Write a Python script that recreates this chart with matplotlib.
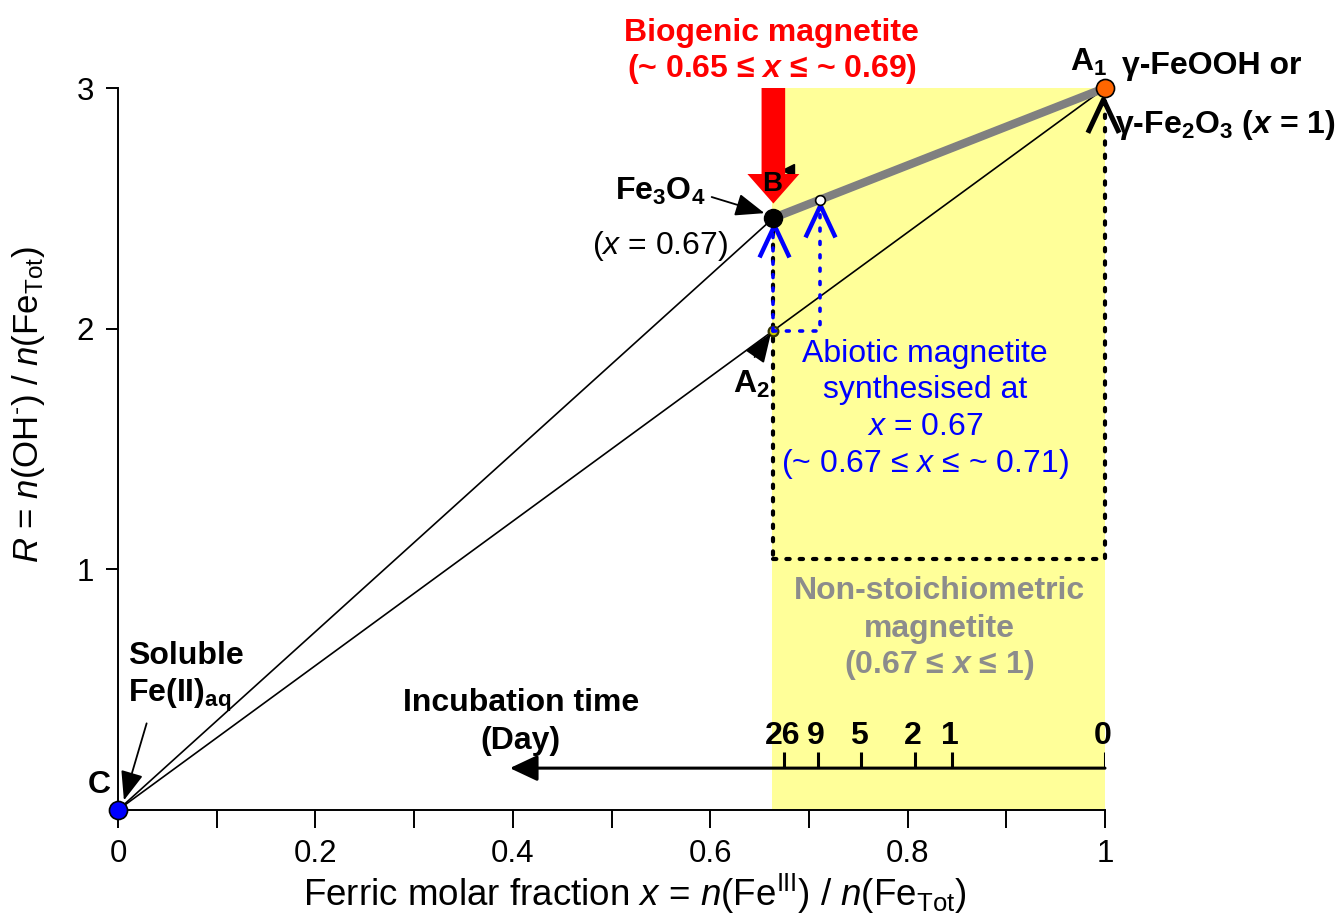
import numpy as np
import matplotlib
matplotlib.use("Agg")
import matplotlib.pyplot as plt
from matplotlib.path import Path
from matplotlib.patches import FancyArrowPatch, Rectangle

plt.rcParams['font.family'] = ['Liberation Sans', 'DejaVu Sans']
plt.rcParams['mathtext.fontset'] = 'custom'
plt.rcParams['mathtext.rm'] = 'Liberation Sans'
plt.rcParams['mathtext.it'] = 'Liberation Sans:italic'
plt.rcParams['mathtext.bf'] = 'Liberation Sans:bold'
plt.rcParams['mathtext.bfit'] = 'Liberation Sans:bold:italic'

# --- data ---
# 点: C (Fe(II)aq), B (Fe3O4), A1 (γ-FeOOH / γ-Fe2O3), A2, abiotic magnetite
pt_C = (0.0, 0.0)
pt_B = (0.664, 2.46)
pt_A1 = (1.0, 3.0)
pt_A2 = (0.664, 1.99)
pt_abio = (0.711, 2.535)

# 非化学量論マグネタイトの範囲 (黄色)
nonstoich_x = (0.6626, 1.0)
dotted_box_y = (1.045, 3.0)

# 生物起源マグネタイト (赤い矢印)
bio_x = 0.664
bio_y = (3.0, 2.52)

# 培養時間 (Day) 軸
day_labels = ["26", "9", "5", "2", "1", "0"]
day_x = [0.675, 0.709, 0.753, 0.807, 0.845, 1.0]
day_axis_y = 0.174
day_arrow_tip_x = 0.397

x_ticks = [0.0, 0.1, 0.2, 0.3, 0.4, 0.5, 0.6, 0.7, 0.8, 0.9, 1.0]
x_ticklabels = ["0", "", "0.2", "", "0.4", "", "0.6", "", "0.8", "", "1"]
y_ticks = [1, 2, 3]
y_ticklabels = ["1", "2", "3"]

fig = plt.figure(figsize=(13.38, 9.18), dpi=100)
ax = fig.add_axes([118 / 1338, 108 / 918, 987 / 1338, 722 / 918])
ax.set_xlim(0, 1)
ax.set_ylim(0, 3)

for s in ["top", "right"]:
    ax.spines[s].set_visible(False)
for s in ["left", "bottom"]:
    ax.spines[s].set_linewidth(1.4)

ax.set_xticks(x_ticks)
ax.set_xticklabels(x_ticklabels)
ax.set_yticks(y_ticks)
ax.set_yticklabels(y_ticklabels)
ax.tick_params(axis="x", direction="out", length=13, width=1.4, pad=8, labelsize=22.5)
ax.tick_params(axis="y", direction="out", length=8.5, width=1.4, pad=9, labelsize=22.5)

ax.set_xlabel(r"Ferric molar fraction $x$ = $n$(Fe$^{\mathrm{III}}$) / $n$(Fe$_{\mathrm{Tot}}$)",
              fontsize=26.5)
ax.xaxis.set_label_coords(0.524, -0.086)
ax.set_ylabel(r"$R$ = $n$(OH$^{\text{-}}$) / $n$(Fe$_{\mathrm{Tot}}$)", fontsize=25)
ax.yaxis.set_label_coords(-0.072, 0.561)

# yellow region
ax.add_patch(Rectangle((nonstoich_x[0], 0), nonstoich_x[1] - nonstoich_x[0], 3,
                       facecolor="#ffff99", edgecolor="none", zorder=0, clip_on=False))

# dotted box
dot_style = dict(color="black", lw=3, linestyle=(0, (0.8, 2.4)), dash_capstyle="round",
                 zorder=2, clip_on=False)
ax.plot([pt_A1[0], pt_A1[0]], [pt_A1[1], dotted_box_y[0]], **dot_style)
ax.plot([pt_B[0], pt_A1[0]], [dotted_box_y[0], dotted_box_y[0]], **dot_style)
ax.plot([pt_B[0], pt_B[0]], [pt_B[1], dotted_box_y[0]], **dot_style)

# thin lines from C
ax.plot([pt_C[0], pt_B[0]], [pt_C[1], pt_B[1]], color="black", lw=1.2, zorder=3, clip_on=False)
ax.plot([pt_C[0], pt_A1[0]], [pt_C[1], pt_A1[1]], color="black", lw=1.2, zorder=3, clip_on=False)

# gray line B - A1
ax.plot([pt_B[0], pt_A1[0]], [pt_B[1], pt_A1[1]], color="#808080", lw=6, zorder=4,
        solid_capstyle="butt", clip_on=False)

# blue dotted
blue_dot = dict(color="blue", lw=2.6, linestyle=(0, (0.8, 2.9)), dash_capstyle="round",
                zorder=5, clip_on=False)
ax.plot([pt_A2[0], pt_A2[0]], [pt_A2[1], 2.40], **blue_dot)
ax.plot([pt_A2[0], pt_abio[0], pt_abio[0]], [pt_A2[1], pt_A2[1], 2.48], **blue_dot)

# chevrons (Λ)
chevron = Path([(-15, -32), (0, 0), (15, -32)], [Path.MOVETO, Path.LINETO, Path.LINETO])
ax.plot([pt_B[0] + 0.001, pt_abio[0]], [2.43, 2.513], linestyle="none", marker=chevron, ms=46,
        mfc="none", mec="blue", mew=3.2, zorder=6, clip_on=False)
ax.plot([pt_A1[0] - 0.002], [2.955], linestyle="none", marker=chevron, ms=48,
        mfc="none", mec="black", mew=3.6, zorder=6, clip_on=False)

# points
ax.plot(*pt_C, "o", ms=13, mfc="blue", mec="black", mew=1.2, zorder=8, clip_on=False)
ax.plot(*pt_B, "o", ms=13, mfc="black", mec="black", zorder=8, clip_on=False)
ax.plot(*pt_A1, "o", ms=13, mfc="#ff6600", mec="black", mew=1.2, zorder=8, clip_on=False)
ax.plot(*pt_abio, "o", ms=7, mfc="white", mec="black", mew=1.2, zorder=8, clip_on=False)
ax.plot(*pt_A2, "o", ms=7, mfc="#c8c800", mec="#333300", mew=1.6, zorder=4.5, clip_on=False)

# red arrow (biogenic magnetite)
ax.add_patch(FancyArrowPatch((bio_x, bio_y[0]), (bio_x, bio_y[1]),
                             arrowstyle="simple,head_width=2.2,head_length=1.25,tail_width=1.0",
                             mutation_scale=17, color="red", lw=0, zorder=9,
                             shrinkA=0, shrinkB=0, clip_on=False))
ax.plot([0.679], [2.66], marker="<", ms=9, color="black", linestyle="none", zorder=8.5)

# incubation time axis
ax.annotate("", xy=(day_arrow_tip_x, day_axis_y), xytext=(1.0, day_axis_y),
            arrowprops=dict(arrowstyle="-|>,head_length=0.85,head_width=0.4",
                            mutation_scale=20, color="black", lw=2.2, shrinkA=0, shrinkB=0),
            zorder=7)
ax.vlines(day_x, day_axis_y, day_axis_y + 0.065, color="black", lw=2.2, zorder=7)
for xd, lab in zip(day_x, day_labels):
    ax.text(xd - 0.002, 0.274, lab, ha="center", va="baseline", fontsize=23,
            fontweight="bold", zorder=7)
ax.text(0.408, 0.411, "Incubation time", ha="center", va="baseline", fontsize=23,
        fontweight="bold")
ax.text(0.408, 0.253, "(Day)", ha="center", va="baseline", fontsize=23, fontweight="bold")

# labels
ax.text(0.6625, 3.195, "Biogenic magnetite", ha="center", va="baseline", fontsize=23,
        fontweight="bold", color="red", clip_on=False)
ax.text(0.6625, 3.045, r"(~ 0.65 ≤ $\mathbfit{x}$ ≤ ~ 0.69)", ha="center", va="baseline",
        fontsize=23, fontweight="bold", color="red", clip_on=False)

ax.text(0.983, 3.07, r"A$_{\mathbf{1}}$", ha="center", va="baseline", fontsize=23,
        fontweight="bold", clip_on=False)
ax.text(1.017, 3.058, "γ-FeOOH or", ha="left", va="baseline", fontsize=23,
        fontweight="bold", clip_on=False)
ax.text(1.010, 2.813, r"γ-Fe$_{\mathbf{2}}$O$_{\mathbf{3}}$ ($\mathbfit{x}$ = 1)", ha="left",
        va="baseline", fontsize=23, fontweight="bold", clip_on=False)

head = dict(arrowstyle="-|>,head_length=0.9,head_width=0.35", mutation_scale=20,
            color="black", lw=1.3, shrinkA=0, shrinkB=0)
ax.text(0.549, 2.534, r"Fe$_{\mathbf{3}}$O$_{\mathbf{4}}$", ha="center", va="baseline",
        fontsize=23, fontweight="bold")
ax.annotate("", xy=(0.655, 2.48), xytext=(0.6015, 2.547), arrowprops=head, zorder=7)
ax.text(0.549, 2.31, r"($x$ = 0.67)", ha="center", va="baseline", fontsize=23)
ax.text(0.663, 2.572, "B", ha="center", va="baseline", fontsize=20, fontweight="bold",
        zorder=10)

ax.text(0.642, 1.732, r"A$_{\mathbf{2}}$", ha="center", va="baseline", fontsize=23,
        fontweight="bold")
ax.annotate("", xy=(0.6615, 1.98), xytext=(0.645, 1.882), arrowprops=head, zorder=7)

blue_lines = ["Abiotic magnetite", "synthesised at", r"$x$ = 0.67",
              r"(~ 0.67 ≤ $x$ ≤ ~ 0.71)"]
blue_y = [1.861, 1.712, 1.558, 1.404]
for ly, txt in zip(blue_y, blue_lines):
    ax.text(0.8176, ly, txt, ha="center", va="baseline", fontsize=23, color="blue", zorder=7)

gray_lines = ["Non-stoichiometric", "magnetite", r"(0.67 ≤ $\mathbfit{x}$ ≤ 1)"]
gray_y = [0.877, 0.719, 0.569]
for ly, txt in zip(gray_y, gray_lines):
    ax.text(0.8324, ly, txt, ha="center", va="baseline", fontsize=23, color="#8c8c8c",
            fontweight="bold", zorder=7)

ax.text(0.0101, 0.607, "Soluble", ha="left", va="baseline", fontsize=23, fontweight="bold")
ax.text(0.0101, 0.449, r"Fe(II)$_{\mathbf{aq}}$", ha="left", va="baseline", fontsize=23,
        fontweight="bold")
ax.annotate("", xy=(0.006, 0.04), xytext=(0.029, 0.36), arrowprops=head, zorder=7)
ax.text(-0.019, 0.071, "C", ha="center", va="baseline", fontsize=23, fontweight="bold",
        clip_on=False)

fig.savefig("out.png", dpi=100)
